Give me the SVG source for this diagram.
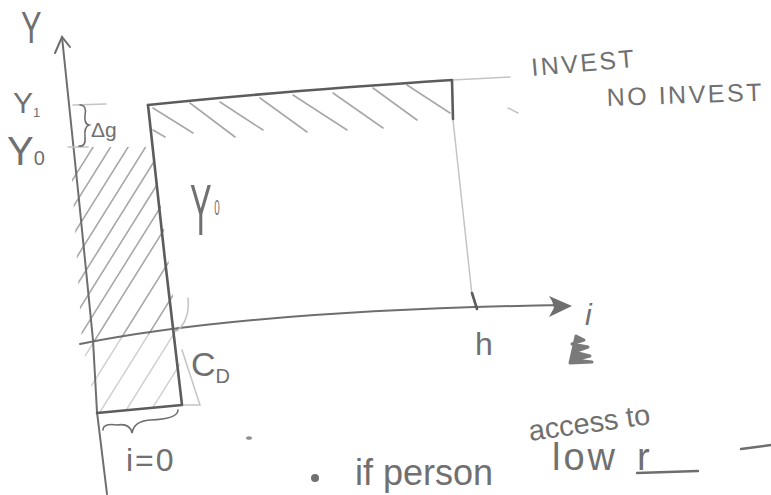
<svg xmlns="http://www.w3.org/2000/svg" width="771" height="495" viewBox="0 0 771 495">
<style>
.ink{fill:none;stroke:#5c5c5c;stroke-width:2.6;stroke-linecap:round;stroke-linejoin:round}
.axis{fill:none;stroke:#6e6e6e;stroke-width:2;stroke-linecap:round}
.faint{fill:none;stroke:#c4c4c4;stroke-width:1.5;stroke-linecap:round}
.hatch{fill:none;stroke:#a8a8a8;stroke-width:1.6;stroke-linecap:round}
.hatch2{fill:none;stroke:#d0d0d0;stroke-width:1.5;stroke-linecap:round}
.t{font-family:"Liberation Sans",Arial,sans-serif;fill:#707070}
</style>
<defs>
<clipPath id="upper"><polygon points="70,147 153,147 178,331 82,343"/></clipPath>
<clipPath id="lower"><polygon points="82,343 178,331 182,405 97,413"/></clipPath>
</defs>
<rect width="771" height="495" fill="#ffffff"/>

<g id="hatch-left" clip-path="url(#upper)">
<path class="hatch" d="M60,200 L160,40 M60,228 L160,68 M60,256 L160,96 M60,284 L160,124 M60,312 L160,152 M60,340 L160,180 M60,368 L170,192 M60,396 L180,204 M70,420 L190,228 M80,444 L200,252 M90,468 L210,276"/>
</g>
<g id="hatch-left-low" clip-path="url(#lower)">
<path class="hatch2" d="M60,368 L170,192 M60,396 L180,204 M70,420 L190,228 M80,444 L200,252 M90,468 L210,276 M100,492 L220,300"/>
</g>

<g id="hatch-top">
<path class="hatch" d="M153,108 L193,133 M153,130 L165,137 M190,103 L235,137 M220,102 L263,130 M260,98 L307,132 M293,95 L347,130 M333,93 L383,128 M373,88 L417,120 M407,85 L450,113"/>
</g>

<g id="y-axis">
<path class="axis" d="M62,37 L79,200 L93,340 L97,412 L107,494"/>
<path class="axis" d="M55,53 L62,37 L70,47"/>
</g>

<g id="i-axis">
<path class="axis" d="M80,344 Q250,310 565,305"/>
<polygon points="549,296 572,306 549,317 555,306" fill="#6e6e6e"/>
<path class="axis" d="M553,300 L556,312"/>
</g>

<g id="guides">
<path class="faint" d="M73,105 L106,104"/>
<path class="faint" d="M68,147 L88,147"/>
<path class="faint" d="M452,80 L510,77"/>
<path class="faint" d="M508,108 L518,113"/>
<path class="faint" d="M453,120 L472,295"/>
<path class="faint" d="M188,298 Q190,320 177,331"/>
<path class="faint" d="M182,350 L200,405 L183,405"/>
</g>

<g id="invest-curve">
<path class="ink" d="M148,105 Q270,92 452,80 L453,119"/>
</g>
<g id="y0-curve">
<path class="ink" d="M148,105 L165,260 L182,405 L97,413"/>
</g>
<g id="tick-h">
<path class="ink" d="M472,293 L477,309"/>
</g>

<g id="brace-dg">
<path class="axis" style="stroke-width:1.6" d="M80,105 Q87,105 85,115 Q84,124 89,125 Q84,127 85,137 Q86,147 79,146"/>
</g>
<g id="brace-i0">
<path class="axis" style="stroke-width:1.6" d="M103,430 Q103,423 117,425 Q130,423 132,433 Q134,421 150,420 Q178,419 178,410"/>
</g>

<g id="labels">
<text class="t" transform="translate(21,43) scale(0.7,1)" font-size="44">Y</text>
<text class="t" x="13" y="113" font-size="30">Y<tspan font-size="13" dy="4">1</tspan></text>
<text class="t" x="7" y="165" font-size="40">Y<tspan font-size="20">0</tspan></text>
<text class="t" x="91" y="137" font-size="21">Δg</text>
<text class="t" transform="translate(190,235) scale(0.45,1)" font-size="72">Y<tspan font-size="22" dx="6" dy="-20">0</tspan></text>
<text class="t" x="191" y="376" font-size="34">C<tspan font-size="20" dy="7">D</tspan></text>
<text class="t" x="475" y="355" font-size="32">h</text>
<text class="t" x="585" y="325" font-size="30" font-style="italic">i</text>
<text class="t" x="532" y="76" font-size="25" letter-spacing="2.5" transform="rotate(-5 532 76)">INVEST</text>
<text class="t" x="607" y="106" font-size="25" letter-spacing="2.5" transform="rotate(-2 607 106)">NO INVEST</text>
<text class="t" x="126" y="471" font-size="32" letter-spacing="2">i=0</text>
<text class="t" x="355" y="485" font-size="36">if person</text>
<text class="t" x="530" y="441" font-size="29" transform="rotate(-8 530 441)">access to</text>
<text class="t" x="552" y="470" font-size="38" letter-spacing="3">low</text>
<text class="t" x="637" y="470" font-size="38">r</text>
</g>

<g id="marks">
<circle cx="315" cy="478" r="4" fill="#707070"/>
<ellipse cx="249" cy="438" rx="3" ry="1.8" fill="#909090"/>
<path class="axis" style="stroke-width:2.4" d="M637,473 L698,471"/>
<path class="axis" style="stroke-width:2.4" d="M741,449 L771,445"/>
<path d="M576,336 L584,340 L572,344 L588,347 L574,352 L590,356 L574,360 L592,362 L570,363 Z" fill="#7a7a7a" stroke="#7a7a7a" stroke-width="3" stroke-linejoin="round"/>
</g>
</svg>
